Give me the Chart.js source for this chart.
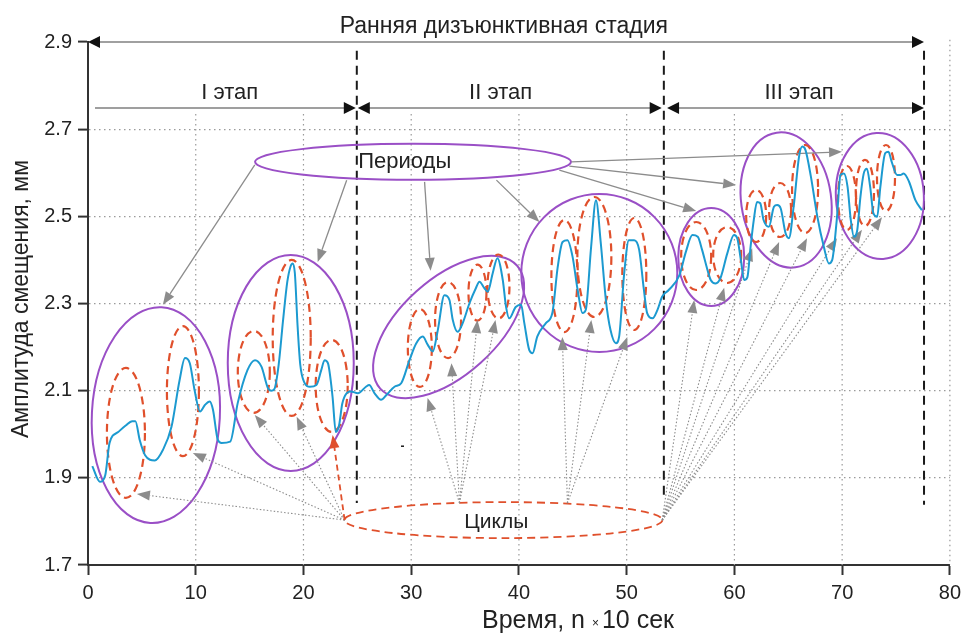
<!DOCTYPE html>
<html lang="ru">
<head>
<meta charset="UTF-8">
<title>Ранняя дизъюнктивная стадия</title>
<script src="https://cdn.jsdelivr.net/npm/chart.js"></script>
<style>
    body { margin: 0; background: #fff; }
    #wrap { width: 967px; height: 635px; position: relative; }
</style>
</head>
<body>
<div id="wrap"><canvas id="ampChart"></canvas></div>
<script>
// время, n x 10 сек
const timeVals = [0.4, 1.1, 1.6, 2.0, 2.8, 3.5, 4.1, 4.4, 4.8, 5.3, 6.2, 6.95, 7.75, 8.5, 9.0, 9.45, 9.9, 10.4, 10.85, 11.3,
    11.6, 12.05, 12.4, 13.2, 13.9, 14.8, 15.5, 16.1, 16.7, 17.0, 17.3, 17.7, 18.1, 18.5, 18.8, 19.0, 19.2, 19.45, 19.7, 20.1,
    20.6, 21.2, 21.65, 21.96, 22.27, 22.7, 23.0, 23.3, 23.6, 24.0, 24.4, 25.05, 25.8, 26.1, 26.6, 27.2, 27.7, 28.45, 29.07, 29.84,
    30.46, 31.07, 31.54, 32.0, 32.47, 33.08, 33.55, 33.86, 34.3, 34.78, 35.4, 36.0, 36.33, 36.8, 37.1, 37.56, 38.0, 38.5, 38.8, 39.1,
    39.7, 40.2, 40.5, 40.96, 41.27, 41.7, 42.5, 43.1, 43.6, 44.05, 44.5, 44.98, 45.45, 45.9, 46.2, 46.7, 47.15, 47.6, 48.07, 48.5,
    49.0, 49.3, 49.77, 50.2, 50.7, 51.16, 51.6, 51.9, 52.4, 52.85, 53.3, 53.9, 54.9, 55.5, 56.1, 56.6, 57.0, 57.5, 57.8, 58.26,
    58.7, 59.34, 59.96, 60.27, 60.6, 60.9, 61.2, 61.5, 61.8, 62.1, 62.4, 62.7, 63.2, 63.67, 63.97, 64.3, 64.75, 65.06, 65.5, 66.0,
    66.3, 66.6, 67.1, 67.7, 68.3, 68.77, 69.08, 69.5, 69.85, 70.16, 70.5, 70.8, 71.1, 71.4, 71.7, 72.0, 72.3, 72.6, 72.9, 73.25,
    73.55, 74.0, 74.3, 74.6, 75.1, 75.4, 75.7, 76.2, 76.8, 77.4];
// амплитуда смещения, мм
const ampVals = [1.927, 1.891, 1.906, 1.98, 2.005, 2.02, 2.03, 2.03, 1.987, 1.952, 1.94, 1.964, 2.017, 2.124, 2.175, 2.163, 2.10, 2.052, 2.067, 2.075,
    2.056, 1.987, 1.98, 1.983, 2.072, 2.147, 2.170, 2.155, 2.106, 2.10, 2.104, 2.16, 2.26, 2.35, 2.385, 2.392, 2.37, 2.25, 2.16, 2.118,
    2.109, 2.113, 2.147, 2.170, 2.163, 2.086, 2.005, 2.02, 2.07, 2.094, 2.098, 2.094, 2.109, 2.113, 2.094, 2.079, 2.09, 2.109, 2.117, 2.170,
    2.208, 2.224, 2.205, 2.19, 2.239, 2.319, 2.308, 2.262, 2.235, 2.255, 2.30, 2.335, 2.35, 2.335, 2.327, 2.369, 2.404, 2.354, 2.293, 2.266,
    2.292, 2.297, 2.255, 2.193, 2.186, 2.224, 2.255, 2.278, 2.384, 2.441, 2.445, 2.407, 2.331, 2.278, 2.285, 2.43, 2.537, 2.438, 2.308, 2.239,
    2.209, 2.224, 2.369, 2.445, 2.445, 2.423, 2.331, 2.278, 2.266, 2.285, 2.316, 2.331, 2.365, 2.419, 2.457, 2.453, 2.423, 2.377, 2.354, 2.346,
    2.358, 2.415, 2.457, 2.449, 2.40, 2.354, 2.36, 2.43, 2.492, 2.533, 2.53, 2.492, 2.476, 2.522, 2.526, 2.518, 2.461, 2.45, 2.522, 2.637,
    2.66, 2.652, 2.591, 2.499, 2.43, 2.392, 2.40, 2.492, 2.595, 2.598, 2.568, 2.492, 2.453, 2.468, 2.545, 2.598, 2.609, 2.568, 2.507, 2.499,
    2.568, 2.645, 2.648, 2.625, 2.595, 2.595, 2.598, 2.58, 2.537, 2.514];

const xTickVals = [0, 10, 20, 30, 40, 50, 60, 70, 80];
const yTickVals = [1.7, 1.9, 2.1, 2.3, 2.5, 2.7, 2.9];

// границы этапов (по оси времени)
const stageBounds = [24.95, 53.45, 77.6];
const stageNames = ['I этап', 'II этап', 'III этап'];
const stageLabelX = [13.16, 38.3, 66.0];

// периоды: центр в единицах осей, полуоси в пикселях, поворот в градусах
const periodEllipses = [
    {x: 6.3, y: 2.044, rx: 64, ry: 108, rot: 3},
    {x: 18.82, y: 2.1635, rx: 63, ry: 108, rot: 0},
    {x: 33.47, y: 2.246, rx: 92, ry: 48, rot: -42},
    {x: 47.46, y: 2.370, rx: 78, ry: 79, rot: 0},
    {x: 57.85, y: 2.4067, rx: 33, ry: 49, rot: 0},
    {x: 64.8, y: 2.5375, rx: 45, ry: 68, rot: -8},
    {x: 73.5, y: 2.5467, rx: 44, ry: 63, rot: -3}
];
// циклы
const cycleEllipses = [
    {x: 3.52, y: 2.003, rx: 19, ry: 65}, {x: 8.81, y: 2.099, rx: 16, ry: 65},
    {x: 15.39, y: 2.143, rx: 16, ry: 41}, {x: 18.91, y: 2.221, rx: 19, ry: 78}, {x: 22.62, y: 2.111, rx: 16, ry: 46},
    {x: 30.8, y: 2.198, rx: 12, ry: 39}, {x: 33.42, y: 2.262, rx: 13, ry: 38}, {x: 36.15, y: 2.325, rx: 9, ry: 28}, {x: 38.1, y: 2.339, rx: 11, ry: 32},
    {x: 44.22, y: 2.363, rx: 13, ry: 56}, {x: 47.0, y: 2.4067, rx: 17, ry: 60}, {x: 50.71, y: 2.3677, rx: 12, ry: 56},
    {x: 56.45, y: 2.409, rx: 15, ry: 34}, {x: 59.33, y: 2.4113, rx: 14, ry: 28},
    {x: 62.02, y: 2.5008, rx: 10, ry: 26}, {x: 64.24, y: 2.5145, rx: 11, ry: 27}, {x: 66.56, y: 2.5627, rx: 13, ry: 44},
    {x: 70.45, y: 2.5421, rx: 9, ry: 32}, {x: 72.12, y: 2.5536, rx: 9, ry: 33}, {x: 74.07, y: 2.588, rx: 9, ry: 33}
];
const periodsLabel = {x: 30.17, y: 2.625, rx: 158, ry: 18, textX: 29.4};
const cyclesLabel = {x: 38.56, y: 1.803, rx: 159, ry: 18, textX: 37.9};

// стрелки от "Периоды": [x1, y1, x2, y2]
const periodArrows = [
    [15.48, 2.618, 6.95, 2.297], [24.01, 2.583, 21.32, 2.395], [31.24, 2.579, 31.8, 2.375],
    [37.91, 2.583, 41.9, 2.487], [43.75, 2.606, 56.45, 2.512], [44.68, 2.615, 60.16, 2.572],
    [44.87, 2.625, 69.99, 2.648]
];
// стрелки от "Циклы": [x1, y1, x2, y2]
const cycleArrows = [
    [23.82, 1.803, 4.54, 1.863], [23.82, 1.803, 9.73, 1.957], [23.82, 1.803, 15.48, 2.044], [23.82, 1.803, 19.37, 2.04],
    [34.48, 1.842, 31.52, 2.083], [34.48, 1.842, 33.74, 2.163], [34.48, 1.842, 36.15, 2.262], [34.48, 1.842, 37.82, 2.262],
    [44.5, 1.842, 44.03, 2.223], [44.5, 1.842, 46.72, 2.262], [44.5, 1.842, 50.06, 2.223],
    [53.3, 1.803, 56.27, 2.308], [53.3, 1.803, 59.05, 2.336], [53.3, 1.803, 61.65, 2.427], [53.3, 1.803, 64.15, 2.441],
    [53.3, 1.803, 66.74, 2.45], [53.3, 1.803, 69.52, 2.45], [53.3, 1.803, 71.84, 2.469], [53.3, 1.803, 73.7, 2.498]
];
const redArrow = [23.82, 1.803, 22.71, 1.998];

const FONT = '"Liberation Sans", Arial, sans-serif';
const PURPLE = '#9a4fc6';
const RED = '#e0502c';
const BLUE = '#1c9ad0';

function arrow(ctx, x1, y1, x2, y2, color, dash, len, half) {
    const a = Math.atan2(y2 - y1, x2 - x1);
    const bx = x2 - len * Math.cos(a), by = y2 - len * Math.sin(a);
    ctx.save();
    ctx.strokeStyle = color;
    ctx.setLineDash(dash);
    ctx.beginPath();
    ctx.moveTo(x1, y1);
    ctx.lineTo(bx, by);
    ctx.stroke();
    ctx.setLineDash([]);
    ctx.fillStyle = color;
    ctx.beginPath();
    ctx.moveTo(x2, y2);
    ctx.lineTo(bx + half * Math.sin(a), by - half * Math.cos(a));
    ctx.lineTo(bx - half * Math.sin(a), by + half * Math.cos(a));
    ctx.closePath();
    ctx.fill();
    ctx.restore();
}

function head(ctx, x, y, dir, color) {
    ctx.fillStyle = color;
    ctx.beginPath();
    ctx.moveTo(x, y);
    ctx.lineTo(x - dir * 12, y - 6);
    ctx.lineTo(x - dir * 12, y + 6);
    ctx.closePath();
    ctx.fill();
}

function ellipse(ctx, cx, cy, rx, ry, rot) {
    ctx.beginPath();
    ctx.ellipse(cx, cy, rx, ry, (rot || 0) * Math.PI / 180, 0, Math.PI * 2);
    ctx.stroke();
}

const annotations = {
    id: 'annotations',
    beforeDatasetsDraw(chart) {
        const {ctx, scales: {x, y}} = chart;
        const px = v => x.getPixelForValue(v);
        const py = v => y.getPixelForValue(v);
        ctx.save();

        // вертикальная сетка
        ctx.strokeStyle = '#9a9a9a';
        ctx.lineWidth = 1.2;
        ctx.setLineDash([1.5, 3.5]);
        xTickVals.forEach(v => {
            if (v === 0) return;
            ctx.beginPath();
            ctx.moveTo(px(v), v === 80 ? py(2.905) : py(2.735));
            ctx.lineTo(px(v), py(1.7));
            ctx.stroke();
        });

        // границы этапов
        ctx.strokeStyle = '#1a1a1a';
        ctx.lineWidth = 2;
        ctx.setLineDash([9, 6]);
        const ends = [1.842, 1.856, 1.838];
        stageBounds.forEach((b, i) => {
            ctx.beginPath();
            ctx.moveTo(px(b), py(2.88));
            ctx.lineTo(px(b), py(ends[i]));
            ctx.stroke();
        });
        ctx.setLineDash([]);

        // стрелка стадии
        ctx.strokeStyle = '#808080';
        ctx.lineWidth = 1.5;
        ctx.beginPath();
        ctx.moveTo(px(0) + 8, py(2.9));
        ctx.lineTo(px(77.6) - 8, py(2.9));
        ctx.stroke();
        head(ctx, px(0), py(2.9), -1, '#111');
        head(ctx, px(77.6), py(2.9), 1, '#111');

        // стрелки этапов
        const sy = py(2.7486);
        ctx.beginPath();
        ctx.moveTo(px(0.65), sy);
        ctx.lineTo(px(stageBounds[0]) - 6, sy);
        ctx.moveTo(px(stageBounds[0]) + 8, sy);
        ctx.lineTo(px(53.25) - 6, sy);
        ctx.moveTo(px(53.75) + 6, sy);
        ctx.lineTo(px(77.6) - 6, sy);
        ctx.stroke();
        head(ctx, px(stageBounds[0]) - 1, sy, 1, '#111');
        head(ctx, px(stageBounds[0]) + 1, sy, -1, '#111');
        head(ctx, px(53.25), sy, 1, '#111');
        head(ctx, px(53.75), sy, -1, '#111');
        head(ctx, px(77.6), sy, 1, '#111');

        // периоды
        ctx.strokeStyle = PURPLE;
        ctx.lineWidth = 2;
        periodEllipses.forEach(e => ellipse(ctx, px(e.x), py(e.y), e.rx, e.ry, e.rot));
        ellipse(ctx, px(periodsLabel.x), py(periodsLabel.y), periodsLabel.rx, periodsLabel.ry, 0);

        // циклы
        ctx.strokeStyle = RED;
        ctx.lineWidth = 2.2;
        ctx.setLineDash([8, 5]);
        cycleEllipses.forEach(e => ellipse(ctx, px(e.x), py(e.y), e.rx, e.ry, 0));
        ctx.lineWidth = 1.8;
        ellipse(ctx, px(cyclesLabel.x), py(cyclesLabel.y), cyclesLabel.rx, cyclesLabel.ry, 0);
        ctx.setLineDash([]);

        // стрелки
        ctx.lineWidth = 1.3;
        periodArrows.forEach(a => arrow(ctx, px(a[0]), py(a[1]), px(a[2]), py(a[3]), '#8c8c8c', [], 13, 5));
        ctx.lineWidth = 1.1;
        cycleArrows.forEach(a => arrow(ctx, px(a[0]), py(a[1]), px(a[2]), py(a[3]), '#8c8c8c', [1.5, 2], 13, 5));
        ctx.lineWidth = 1.8;
        arrow(ctx, px(redArrow[0]), py(redArrow[1]), px(redArrow[2]), py(redArrow[3]), RED, [6, 4], 13, 5);

        ctx.restore();
    },
    afterDatasetsDraw(chart) {
        const {ctx, scales: {x, y}} = chart;
        const px = v => x.getPixelForValue(v);
        const py = v => y.getPixelForValue(v);
        ctx.save();
        ctx.fillStyle = '#222';
        ctx.textAlign = 'center';
        ctx.textBaseline = 'middle';

        ctx.font = '23px ' + FONT;
        ctx.fillText('Ранняя дизъюнктивная стадия', px(38.6), py(2.935));
        ctx.font = '22px ' + FONT;
        stageNames.forEach((n, i) => ctx.fillText(n, px(stageLabelX[i]), py(2.783)));
        ctx.fillText('Периоды', px(periodsLabel.textX), py(periodsLabel.y));
        ctx.font = '21px ' + FONT;
        ctx.fillText('Циклы', px(cyclesLabel.textX), py(1.799));
        ctx.font = 'bold 12px ' + FONT;
        ctx.fillText('-', px(29.2), py(1.971));

        // подписи осей
        ctx.font = '25px ' + FONT;
        ctx.textAlign = 'left';
        const t1 = 'Время, n ', t2 = '10 сек';
        const w1 = ctx.measureText(t1).width;
        ctx.font = '12px ' + FONT;
        const wx = ctx.measureText('×').width + 3;
        ctx.font = '25px ' + FONT;
        const w2 = ctx.measureText(t2).width;
        let sx = 578 - (w1 + wx + w2) / 2;
        ctx.fillText(t1, sx, 621);
        ctx.font = '12px ' + FONT;
        ctx.fillText('×', sx + w1, 624);
        ctx.font = '25px ' + FONT;
        ctx.fillText(t2, sx + w1 + wx, 621);

        ctx.translate(22, 299);
        ctx.rotate(-Math.PI / 2);
        ctx.textAlign = 'center';
        ctx.font = '23px ' + FONT;
        ctx.fillText('Амплитуда смещения, мм', 0, 0);
        ctx.restore();
    }
};

const tickFont = {family: FONT, size: 20};

new Chart(document.getElementById('ampChart'), {
    type: 'line',
    data: {
        datasets: [{
            label: 'Амплитуда',
            data: timeVals.map((t, i) => ({x: t, y: ampVals[i]})),
            borderColor: BLUE,
            borderWidth: 2,
            pointRadius: 0,
            fill: false,
            cubicInterpolationMode: 'monotone'
        }]
    },
    options: {
        responsive: true,
        maintainAspectRatio: false,
        animation: false,
        layout: {padding: {top: 42, right: 16, left: 0, bottom: 0}},
        plugins: {legend: {display: false}, tooltip: {enabled: false}},
        scales: {
            x: {
                type: 'linear',
                min: 0,
                max: 80,
                afterBuildTicks: s => { s.ticks = xTickVals.map(v => ({value: v})); },
                afterFit: s => { s.height = 70; },
                ticks: {font: tickFont, color: '#222', padding: 6, maxRotation: 0, autoSkip: false},
                grid: {drawOnChartArea: false, tickLength: 10, tickColor: '#333', tickWidth: 2, tickBorderDash: []},
                border: {color: '#333', width: 2}
            },
            y: {
                min: 1.7,
                max: 2.9,
                afterBuildTicks: s => { s.ticks = yTickVals.map(v => ({value: v})); },
                afterFit: s => { s.width = 88; },
                ticks: {font: tickFont, color: '#222', padding: 6, callback: v => v.toFixed(1)},
                grid: {
                    color: c => (c.tick && (c.tick.value < 1.75 || c.tick.value > 2.85)) ? 'rgba(0,0,0,0)' : '#9a9a9a',
                    lineWidth: 1.2,
                    tickLength: 10,
                    tickColor: '#333',
                    tickWidth: 2,
                    tickBorderDash: []
                },
                border: {color: '#333', width: 2, dash: [1.5, 3.5]}
            }
        }
    },
    plugins: [annotations]
});
</script>
</body>
</html>
